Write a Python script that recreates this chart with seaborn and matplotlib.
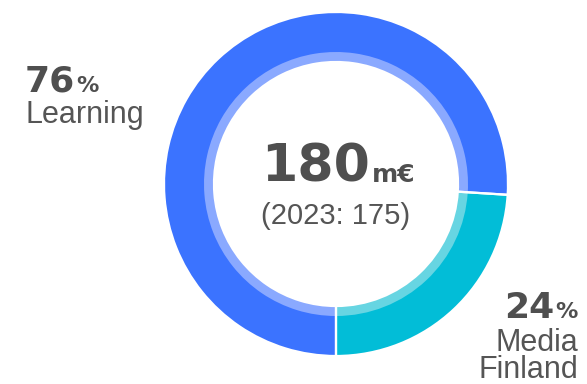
import matplotlib
matplotlib.use("Agg")
import matplotlib.pyplot as plt
import seaborn as sns

# ---- data ----
categories = ["Media Finland", "Learning"]
shares = [24, 76]
total_value = "180"
total_unit = "m€"
prev_year = "2023"
prev_value = "175"

outer_colors = ["#02BDD7", "#3B73FF"]
inner_colors = ["#67D5E2", "#8AA9FF"]
text_dark = "#4F4F4F"
text_mid = "#555555"

sns.set_theme(style="white")
plt.rcParams["font.family"] = ["Liberation Sans", "DejaVu Sans"]

W, H = 587, 384
fig = plt.figure(figsize=(W / 100, H / 100), dpi=100)
ax = fig.add_axes([0, 0, 1, 1])

def Y(ypx):
    return H - ypx

cx, cy = 336, Y(184)
R_out, R_mid, R_in = 172, 132, 122

# coloured rings (no edges)
ax.pie(shares, colors=outer_colors, startangle=-90, counterclock=True,
       radius=R_out, center=(cx, cy),
       wedgeprops=dict(width=R_out - R_in, linewidth=0))
ax.pie(shares, colors=inner_colors, startangle=-90, counterclock=True,
       radius=R_mid, center=(cx, cy),
       wedgeprops=dict(width=R_mid - R_in, linewidth=0))
# white separators between segments
ax.pie(shares, colors=["none"] * len(shares), startangle=-90, counterclock=True,
       radius=R_out, center=(cx, cy),
       wedgeprops=dict(width=R_out - R_in, facecolor="none", edgecolor="white", linewidth=1.6))

ax.set_xlim(0, W)
ax.set_ylim(0, H)
ax.set_aspect("equal")
ax.axis("off")

bold_num = dict(family=["DejaVu Sans"], fontweight="bold", color=text_dark)

fig.canvas.draw()
r = fig.canvas.get_renderer()

# centre total
t180 = ax.text(cx - 20, Y(182), total_value, fontsize=37.5, ha="center", va="baseline", **bold_num)
bb = t180.get_window_extent(r)
ax.text(bb.x1 + 1, Y(182), total_unit, fontsize=18, ha="left", va="baseline", **bold_num)
ax.text(cx, Y(224), f"({prev_year}: {prev_value})", fontsize=21, ha="center",
        va="baseline", color=text_mid)

# Learning label (left)
t76 = ax.text(25, Y(92), f"{shares[1]}", fontsize=26, ha="left", va="baseline", **bold_num)
bb = t76.get_window_extent(r)
ax.text(bb.x1 + 1, Y(92), "%", fontsize=16, ha="left", va="baseline", **bold_num)
ax.text(25, Y(123), categories[1], fontsize=22, ha="left", va="baseline", color=text_mid)

# Media Finland label (right)
tp = ax.text(578, Y(318), "%", fontsize=16, ha="right", va="baseline", **bold_num)
bb = tp.get_window_extent(r)
ax.text(bb.x0 - 1, Y(318), f"{shares[0]}", fontsize=26, ha="right", va="baseline", **bold_num)
m1, m2 = categories[0].split(" ")
ax.text(578, Y(351), m1, fontsize=22, ha="right", va="baseline", color=text_mid)
ax.text(578, Y(378), m2, fontsize=22, ha="right", va="baseline", color=text_mid)

fig.savefig("out.png", dpi=100, facecolor="white")
